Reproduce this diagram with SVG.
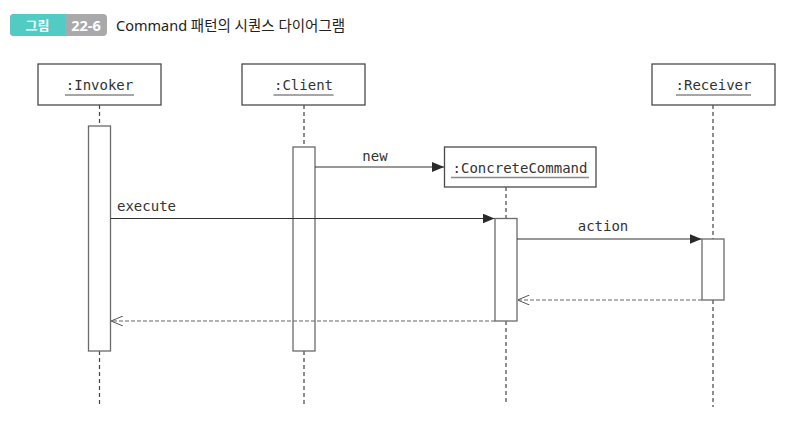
<svg xmlns="http://www.w3.org/2000/svg" width="786" height="428" viewBox="0 0 786 428">
<defs>
<style>
.box{fill:#fff;stroke:#4a4a4a;stroke-width:1.3}
.act{fill:#fff;stroke:#6a6a6a;stroke-width:1.3}
.life{stroke:#444;stroke-width:1.2;stroke-dasharray:4 3;fill:none}
.msg{stroke:#333;stroke-width:1.2;fill:none}
.ret{stroke:#666;stroke-width:1.2;stroke-dasharray:4 2;fill:none}
.lbl{font-family:"DejaVu Sans Mono","Liberation Mono",monospace;font-size:14px;fill:#333}
.ul{stroke:#888;stroke-width:1.4}
</style>
<marker id="fill" viewBox="0 0 12 10" refX="12" refY="5" markerWidth="12" markerHeight="10" markerUnits="userSpaceOnUse" orient="auto">
<path d="M0,0 L12,5 L0,10 Z" fill="#2a2a2a"/>
</marker>
<marker id="open" viewBox="0 0 12 10" refX="12" refY="5" markerWidth="12" markerHeight="10" markerUnits="userSpaceOnUse" orient="auto">
<path d="M0,0 L12,5 L0,10" fill="none" stroke="#555" stroke-width="1"/>
</marker>
</defs>
<rect width="786" height="428" fill="#fff"/>
<g id="header">
<rect x="10" y="14" width="97" height="22" rx="4" fill="#a9a9ab"/>
<path d="M14,14 H65 V36 H14 A4,4 0 0 1 10,32 V18 A4,4 0 0 1 14,14 Z" fill="#52cbc4"/>
<text x="37.5" y="30" text-anchor="middle" font-family="Noto Sans CJK KR, sans-serif" font-size="13" font-weight="bold" fill="#fff">그림</text>
<text x="86" y="30.5" text-anchor="middle" font-family="Noto Sans, sans-serif" font-size="14.5" font-weight="bold" fill="#fff">22-6</text>
<text x="116" y="30.5" font-family="Noto Sans, Noto Sans CJK KR, sans-serif" font-size="14.5" fill="#222">Command 패턴의 시퀀스 다이어그램</text>
</g>
<g id="lifelines">
<line class="life" x1="99.5" y1="105" x2="99.5" y2="126"/>
<line class="life" x1="99.5" y1="351" x2="99.5" y2="407"/>
<line class="life" x1="304" y1="105" x2="304" y2="147"/>
<line class="life" x1="304" y1="351" x2="304" y2="407"/>
<line class="life" x1="506" y1="187" x2="506" y2="218"/>
<line class="life" x1="506" y1="321" x2="506" y2="404"/>
<line class="life" x1="713" y1="105" x2="713" y2="239"/>
<line class="life" x1="713" y1="300" x2="713" y2="407"/>
</g>
<g id="invoker">
<rect class="box" x="38" y="64" width="123" height="41"/>
<text class="lbl" x="99.5" y="90" text-anchor="middle">:Invoker</text>
<line class="ul" x1="65" y1="95" x2="134" y2="95"/>
<rect class="act" x="88.5" y="126" width="22" height="225"/>
</g>
<g id="client">
<rect class="box" x="242" y="64" width="123" height="41"/>
<text class="lbl" x="303.5" y="90" text-anchor="middle">:Client</text>
<line class="ul" x1="273.5" y1="95" x2="333.5" y2="95"/>
<rect class="act" x="293" y="147" width="22" height="204"/>
</g>
<g id="concretecommand">
<rect class="box" x="444.5" y="147" width="151.5" height="40"/>
<text class="lbl" x="520" y="173" text-anchor="middle">:ConcreteCommand</text>
<line class="ul" x1="451" y1="177.5" x2="589" y2="177.5"/>
<rect class="act" x="495" y="218.5" width="22" height="102.5"/>
</g>
<g id="receiver">
<rect class="box" x="652" y="64" width="123" height="41"/>
<text class="lbl" x="713.5" y="90" text-anchor="middle">:Receiver</text>
<line class="ul" x1="676" y1="95" x2="751" y2="95"/>
<rect class="act" x="702" y="239" width="22" height="61"/>
</g>
<g id="connectors">
<line class="msg" x1="315" y1="167" x2="444" y2="167" marker-end="url(#fill)"/>
<text class="lbl" x="375" y="161" text-anchor="middle">new</text>
<line class="msg" x1="110.5" y1="218.5" x2="494.5" y2="218.5" marker-end="url(#fill)"/>
<text class="lbl" x="117" y="211">execute</text>
<line class="msg" x1="517" y1="239" x2="701.5" y2="239" marker-end="url(#fill)"/>
<text class="lbl" x="603" y="231" text-anchor="middle">action</text>
<line class="ret" x1="702" y1="300" x2="517.5" y2="300" marker-end="url(#open)"/>
<line class="ret" x1="495" y1="321" x2="111" y2="321" marker-end="url(#open)"/>
</g>
</svg>
